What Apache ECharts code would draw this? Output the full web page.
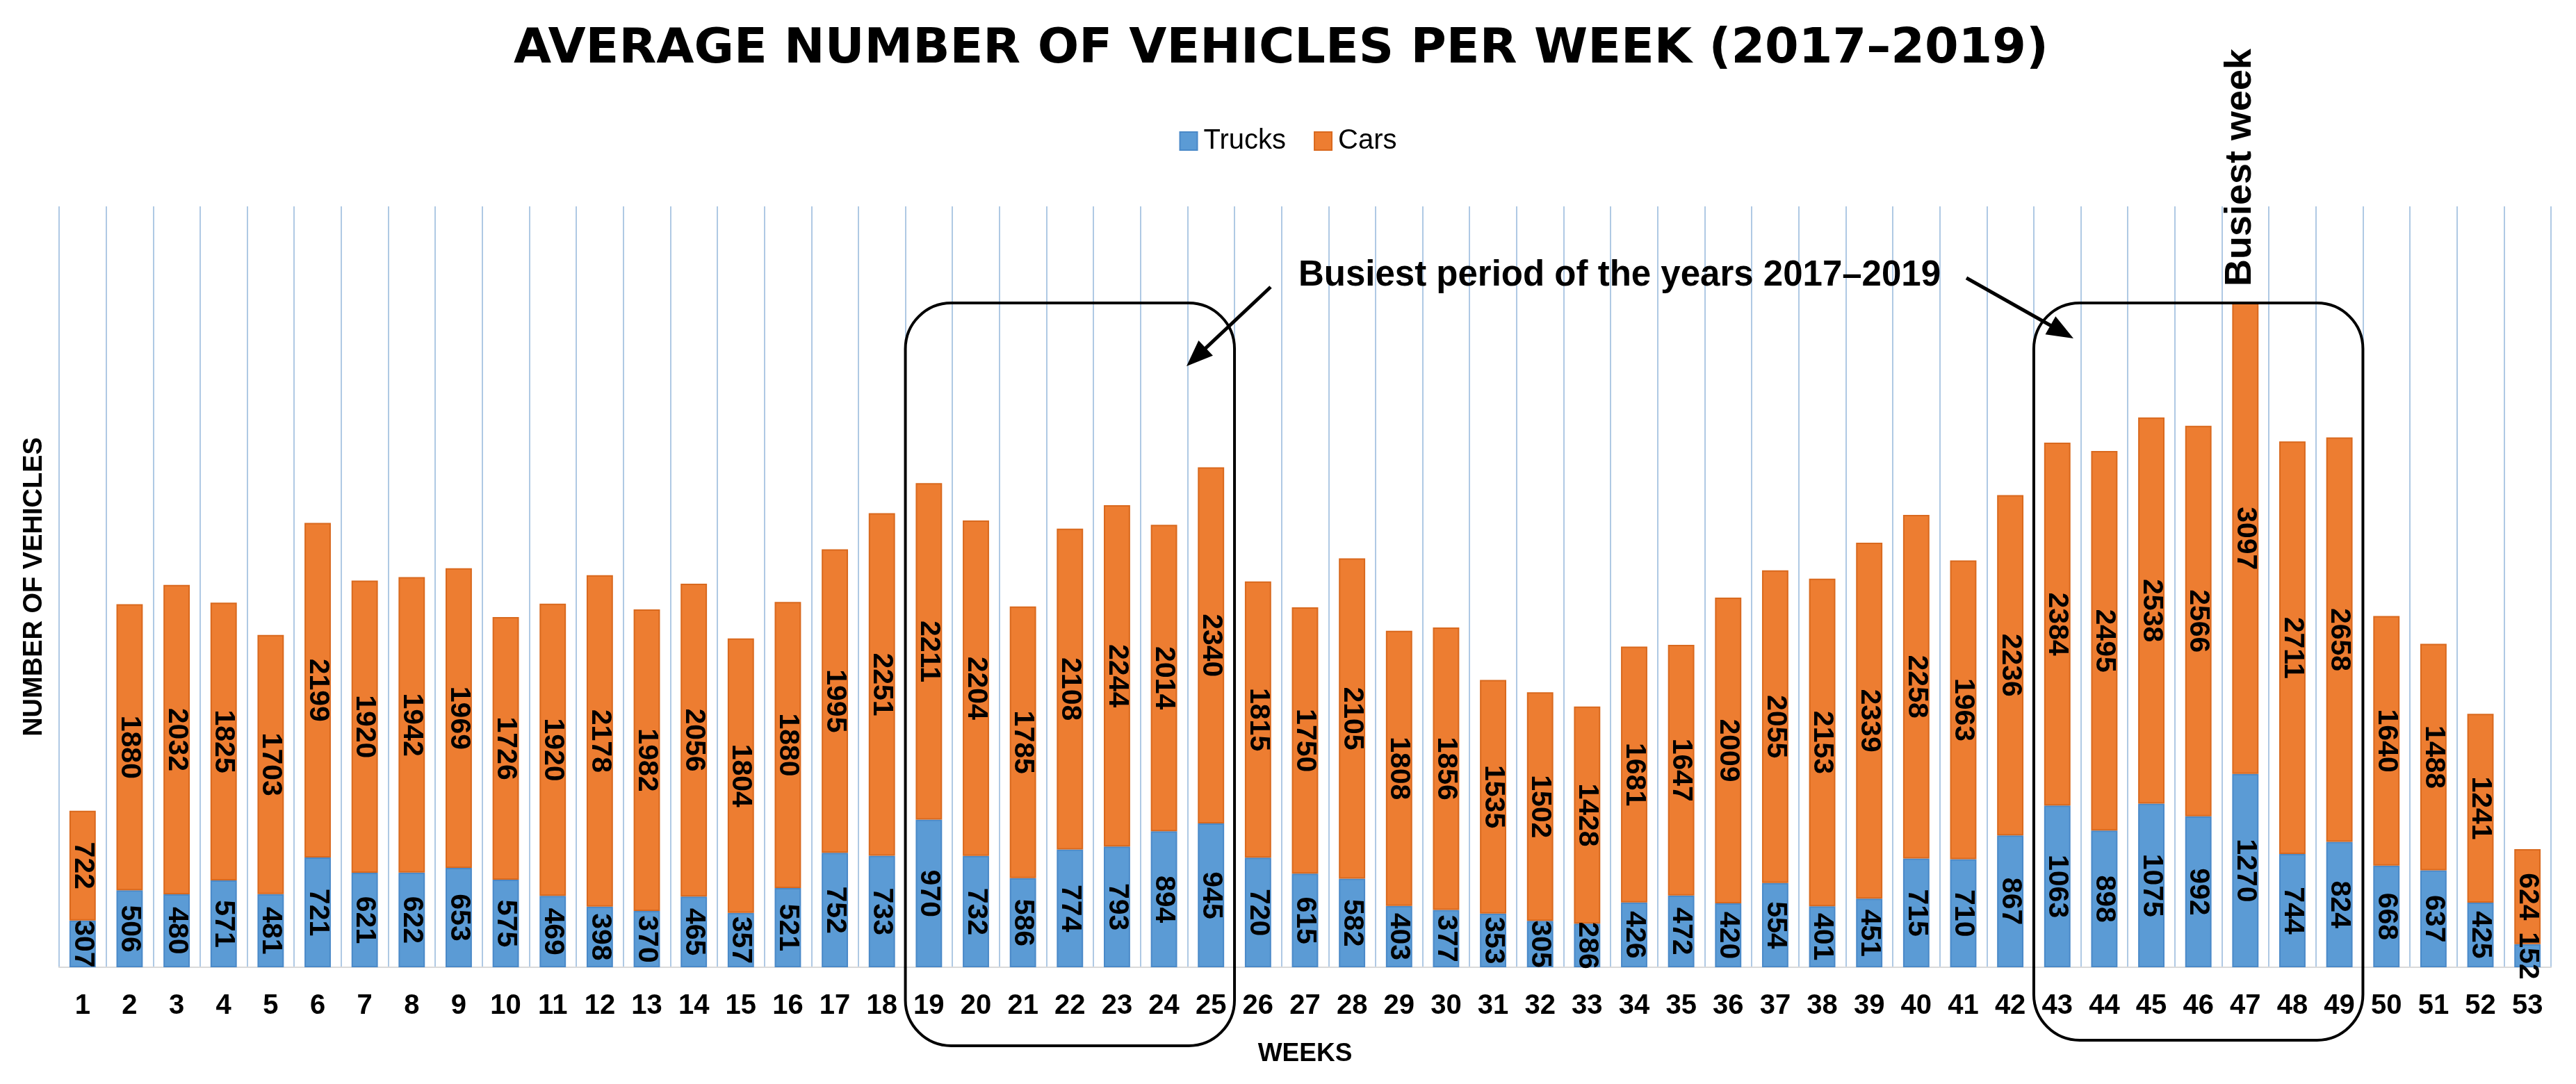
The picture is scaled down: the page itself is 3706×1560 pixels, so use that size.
<!DOCTYPE html>
<html>
<head>
<meta charset="utf-8">
<script src="https://cdn.jsdelivr.net/npm/echarts@6/dist/echarts.min.js"></script>
<style>
html,body{margin:0;padding:0;background:#fff;}
#c{width:3706px;height:1560px;}
</style>
</head>
<body>
<div id="c"></div>
<script>
const weeks = ['1','2','3','4','5','6','7','8','9','10','11','12','13','14','15','16','17','18','19','20','21','22','23','24','25','26','27','28','29','30','31','32','33','34','35','36','37','38','39','40','41','42','43','44','45','46','47','48','49','50','51','52','53'];
const trucks = [307,506,480,571,481,721,621,622,653,575,469,398,370,465,357,521,752,733,970,732,586,774,793,894,945,720,615,582,403,377,353,305,286,426,472,420,554,401,451,715,710,867,1063,898,1075,992,1270,744,824,668,637,425,152];
const cars = [722,1880,2032,1825,1703,2199,1920,1942,1969,1726,1920,2178,1982,2056,1804,1880,1995,2251,2211,2204,1785,2108,2244,2014,2340,1815,1750,2105,1808,1856,1535,1502,1428,1681,1647,2009,2055,2153,2339,2258,1963,2236,2384,2495,2538,2566,3097,2711,2658,1640,1488,1241,624];
const seriesNames = ['Trucks','Cars'];
const titleText = 'AVERAGE NUMBER OF VEHICLES PER WEEK (2017\u20132019)';
const periodText = 'Busiest period of the years 2017\u20132019';
const weekText = 'Busiest week';
// highlighted week ranges (first and last week of each box)
const busyRanges = [['19','25'],['43','49']];
const busiestWeek = '47';

const FONT = '"Liberation Sans", Arial, sans-serif';
const chart = echarts.init(document.getElementById('c'));

const labelStyle = {
  show: true, position: 'inside', rotate: -90,
  fontSize: 41, fontWeight: 'bold', color: '#000', fontFamily: FONT
};

chart.setOption({
  animation: false,
  backgroundColor: '#fff',
  title: {
    text: titleText, left: 1838, top: 32, textAlign: 'center',
    textStyle: { fontFamily: '"DejaVu Sans", sans-serif', fontWeight: 'bold', fontSize: 70, color: '#000' }
  },
  legend: {
    data: seriesNames, top: 178, left: 'center', icon: 'rect',
    itemWidth: 25, itemHeight: 26, itemGap: 40,
    textStyle: { fontSize: 40, color: '#000', fontFamily: FONT, padding: [0, 0, 0, 4] }
  },
  grid: { left: 85, right: 36, top: 297, bottom: 168, containLabel: false },
  xAxis: {
    type: 'category', data: weeks,
    axisLine: { show: true, lineStyle: { color: '#d9d9d9', width: 2 } },
    axisTick: { show: false },
    axisLabel: { interval: 0, margin: 36, fontSize: 40, fontWeight: 'bold', color: '#000', fontFamily: FONT },
    splitLine: { show: true, interval: 0, lineStyle: { color: '#afc9e4', width: 2 } },
    name: 'WEEKS', nameLocation: 'middle', nameGap: 106,
    nameTextStyle: { fontSize: 37, fontWeight: 'bold', color: '#000', fontFamily: FONT }
  },
  yAxis: {
    type: 'value', min: 0, max: 5000,
    axisLabel: { show: false }, axisLine: { show: false }, axisTick: { show: false }, splitLine: { show: false },
    name: 'NUMBER OF VEHICLES', nameLocation: 'middle', nameGap: 16, nameRotate: 90,
    nameTextStyle: { fontSize: 38, fontWeight: 'bold', color: '#000', fontFamily: FONT }
  },
  series: [
    { name: seriesNames[0], type: 'bar', stack: 'total', data: trucks, barWidth: '56%',
      itemStyle: { color: '#5B9BD5', borderColor: '#4A89C8', borderWidth: 2 }, label: labelStyle },
    { name: seriesNames[1], type: 'bar', stack: 'total', data: cars, barWidth: '56%',
      itemStyle: { color: '#ED7D31', borderColor: '#D9691E', borderWidth: 2 }, label: labelStyle }
  ]
});

// annotation overlays positioned from the axis scale
const c0 = chart.convertToPixel({ xAxisIndex: 0 }, 0);
const c1 = chart.convertToPixel({ xAxisIndex: 0 }, 1);
const bandW = c1 - c0;
function leftEdge(w) { return chart.convertToPixel({ xAxisIndex: 0 }, weeks.indexOf(w)) - bandW / 2; }
function rightEdge(w) { return chart.convertToPixel({ xAxisIndex: 0 }, weeks.indexOf(w)) + bandW / 2; }

const boxTop = 436;
const boxBottoms = [1505, 1497];
const graphics = [];
busyRanges.forEach((r, i) => {
  const x1 = leftEdge(r[0]), x2 = rightEdge(r[1]);
  graphics.push({
    type: 'rect', z: 100,
    shape: { x: x1, y: boxTop, width: x2 - x1, height: boxBottoms[i] - boxTop, r: 66 },
    style: { fill: 'none', stroke: '#000', lineWidth: 4 }
  });
});

function arrow(xs, ys, xt, yt) {
  const dx = xt - xs, dy = yt - ys, len = Math.hypot(dx, dy);
  const ux = dx / len, uy = dy / len;
  const hl = 38, hw = 15;
  const bx = xt - ux * hl, by = yt - uy * hl;
  graphics.push({ type: 'line', z: 100, shape: { x1: xs, y1: ys, x2: bx + ux * 4, y2: by + uy * 4 },
    style: { stroke: '#000', lineWidth: 5 } });
  graphics.push({ type: 'polygon', z: 100,
    shape: { points: [[xt, yt], [bx - uy * hw, by + ux * hw], [bx + uy * hw, by - ux * hw]] },
    style: { fill: '#000' } });
}
arrow(1828, 413, 1707, 527);
arrow(2829, 400, 2983, 487);

graphics.push({
  type: 'text', z: 100, x: 2330, y: 397,
  style: { text: periodText, fontSize: 51, fontWeight: 'bold', fontFamily: FONT, fill: '#000', align: 'center', verticalAlign: 'middle' }
});
graphics.push({
  type: 'text', z: 100,
  x: chart.convertToPixel({ xAxisIndex: 0 }, weeks.indexOf(busiestWeek)) - 7, y: 241,
  rotation: Math.PI / 2,
  style: { text: weekText, fontSize: 54, fontWeight: 'bold', fontFamily: FONT, fill: '#000', align: 'center', verticalAlign: 'middle' }
});

chart.setOption({ graphic: { elements: graphics } });
</script>
</body>
</html>
